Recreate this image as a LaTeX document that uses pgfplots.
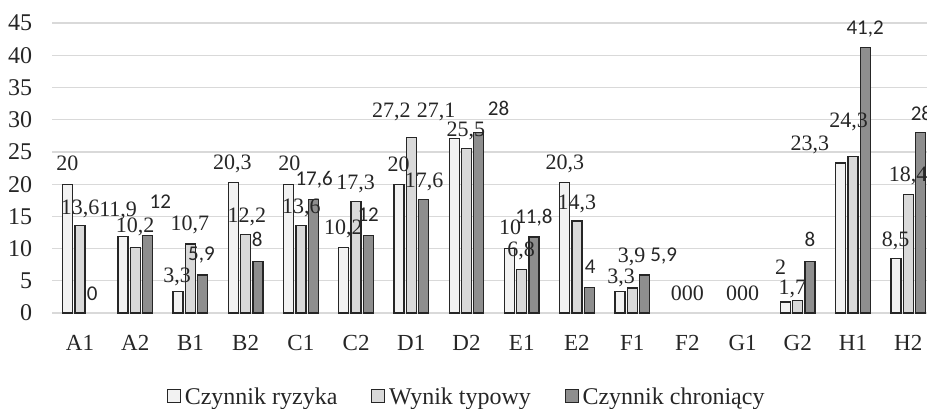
\documentclass[border=0pt]{standalone}
\usepackage{pgfplots}
\pgfplotsset{compat=1.18}
\usepackage{pgfplotstable}
\usepackage{fontspec}
\setmainfont{Liberation Serif}
\newfontfamily\sansl{Carlito}
\definecolor{cw}{HTML}{F2F2F2}
\definecolor{cl}{HTML}{D9D9D9}
\definecolor{cd}{HTML}{8E8E8E}
\definecolor{edgec}{HTML}{262626}
\definecolor{gridc}{HTML}{D9D9D9}
\definecolor{labc}{HTML}{262626}

\pgfplotstableread{
x y
0 20
1 11.9
2 3.3
3 20.3
4 20
5 10.2
6 20
7 27.1
8 10
9 20.3
10 3.3
13 1.7
14 23.3
15 8.5
}\serA
\pgfplotstableread{
x y
0 13.6
1 10.2
2 10.7
3 12.2
4 13.6
5 17.3
6 27.2
7 25.5
8 6.8
9 14.3
10 3.9
13 2
14 24.3
15 18.4
}\serB
\pgfplotstableread{
x y
1 12
2 5.9
3 8
4 17.6
5 12
6 17.6
7 28
8 11.8
9 4
10 5.9
13 8
14 41.2
15 28
}\serC
\pgfplotstableread{
x y label
-0.23 23.2 20
0.00 16.45 13,6
0.69 16.2 11,9
1.00 13.6 10,2
1.99 13.9 10,7
1.757 5.95 3,3
2.76 23.4 20,3
3.02 15.2 12,2
3.79 23.2 20
4.01 16.55 13,6
4.99 20.3 17,3
4.77 13.35 10,2
5.64 31.45 27,2
5.77 23.1 20
6.23 20.7 17,6
6.45 31.45 27,1
6.99 28.6 25,5
7.79 13.35 10
7.99 10.0 6,8
8.78 23.4 20,3
9.0 17.2 14,3
9.80 5.75 3,3
9.99 8.95 3,9
11.0 3.15 000
12.0 3.15 000
12.69 7.1 2
12.9 4.0 1,7
13.22 26.3 23,3
13.92 30.0 24,3
14.77 11.5 8,5
15.0 21.6 18,4
}\labS
\pgfplotstableread{
x y label
0.22 3.0 0
1.455 17.2 12
2.2 9.2 5,9
3.21 11.3 8
4.24 20.85 17,6
5.22 15.3 12
7.58 31.7 28
8.22 14.9 11,8
9.24 7.2 4
10.57 8.95 5,9
13.22 11.3 8
14.22 44.3 41,2
15.24 30.9 28
}\labN

\pgfplotsset{
  mybar/.style={ybar, bar width=5pt, draw=edgec, line width=0.65pt,
    legend image code/.code={\draw[##1,/tikz/.cd,line width=0.5pt,yshift=-0.25em] (0pt,0pt) rectangle (6.3pt,6.3pt);}},
  mylab/.style={only marks, mark=*, mark size=0pt, mark options={draw=none,fill=none},
    point meta=explicit symbolic, nodes near coords, forget plot},
}

\begin{document}
\begin{tikzpicture}
\begin{axis}[
  scale only axis, width=437.2pt, height=145pt,
  xmin=-0.5, xmax=15.34, ymin=0, ymax=45,
  ytick={0,5,...,45},
  xtick={0,...,15},
  xticklabels={A1,A2,B1,B2,C1,C2,D1,D2,E1,E2,F1,F2,G1,G2,H1,H2},
  ymajorgrids, grid style={draw=gridc, line width=0.6pt},
  axis line style={draw=none},
  major tick length=0pt,
  tick label style={font=\fontsize{11.5}{13}\selectfont, text=labc},
  /pgf/number format/assume math mode=true,
  yticklabel style={inner sep=0pt, anchor=east, xshift=-10pt, font=\fontsize{12}{14}\selectfont},
  xticklabel style={inner sep=0pt, anchor=north, yshift=-11pt},
  legend columns=3,
  legend style={draw=none, fill=none, at={(axis description cs:0.475,-0.29)}, anchor=center,
    font=\fontsize{12}{14}\selectfont, text=labc,
    /tikz/every even column/.append style={column sep=15pt}},
]
\addplot[mybar, fill=cw, bar shift=-6.15pt] table[x=x,y=y]{\serA};
\addlegendentry{Czynnik ryzyka}
\addplot[mybar, fill=cl, bar shift=0pt] table[x=x,y=y]{\serB};
\addlegendentry{Wynik typowy}
\addplot[mybar, fill=cd, bar shift=6.15pt] table[x=x,y=y]{\serC};
\addlegendentry{Czynnik chroniący}

\addplot[mylab, every node near coord/.append style={font=\fontsize{11}{13}\selectfont, text=labc, inner sep=0pt, anchor=base, yshift=-3.7pt}] table[x=x,y=y,meta=label]{\labS};
\addplot[mylab, every node near coord/.append style={font=\sansl\fontsize{10.5}{12}\selectfont, text=labc, inner sep=0pt, anchor=base, yshift=-3.3pt}] table[x=x,y=y,meta=label]{\labN};
\end{axis}
\pgfresetboundingbox
\path[use as bounding box] (current axis.south west) ++(-26.2pt,-47.5pt) rectangle ([yshift=11.5pt]current axis.north east);
\end{tikzpicture}
\end{document}
